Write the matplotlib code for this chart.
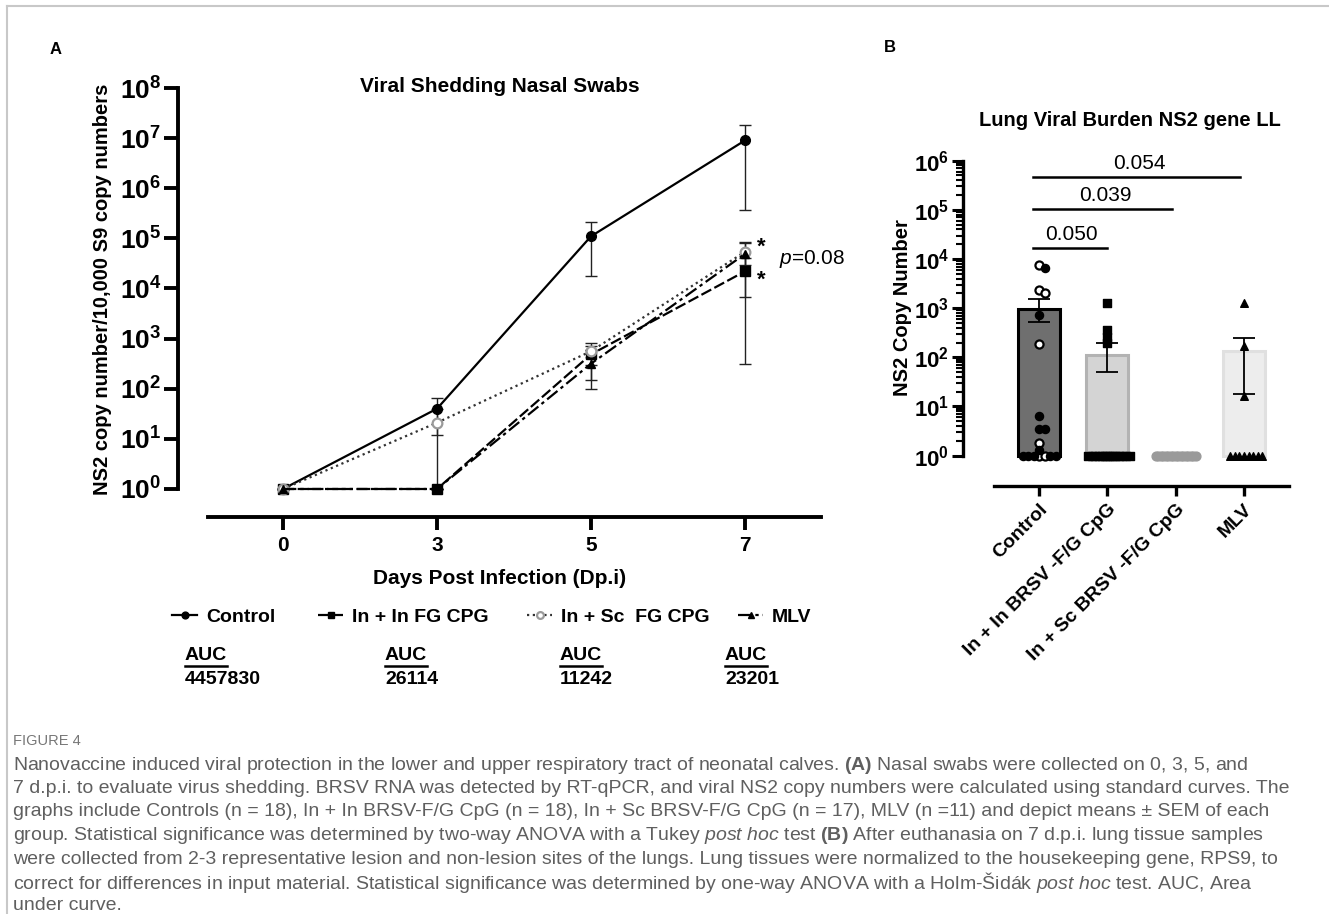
import numpy as np
import matplotlib
matplotlib.use('Agg')
import matplotlib.pyplot as plt
from matplotlib.lines import Line2D
from matplotlib.ticker import FixedLocator, FuncFormatter, NullFormatter

plt.rcParams['font.family'] = ['Liberation Sans', 'DejaVu Sans']
plt.rcParams['mathtext.fontset'] = 'custom'
plt.rcParams['mathtext.rm'] = 'Liberation Sans'
plt.rcParams['mathtext.bf'] = 'Liberation Sans:bold'
plt.rcParams['mathtext.it'] = 'Liberation Sans:italic'

# ---- panel A: nasal shedding (means and SEM limits) ----
days = ['0', '3', '5', '7']
control = [1, 40, 1.1e5, 9.0e6]
control_lo = [1, 12, 1.8e4, 3.7e5]
control_hi = [1, 66, 2.1e5, 1.8e7]
inin = [1, 1, 485, 2.2e4]
inin_lo = [1, 1, 148, 316]
inin_hi = [1, 1, 700, 4.0e4]
insc = [1, 21, 560, 5.4e4]
insc_lo = [1, 1, 300, 3.0e4]
insc_hi = [1, 40, 830, 8.5e4]
mlv = [1, 1, 316, 4.9e4]
mlv_lo = [1, 1, 100, 6.9e3]
mlv_hi = [1, 1, 600, 8.0e4]
legend_names = ['Control', 'In + In FG CPG', 'In + Sc  FG CPG', 'MLV']
auc_values = ['4457830', '26114', '11242', '23201']

# ---- panel B: lung viral burden ----
groups = ['Control', 'In + In BRSV -F/G CpG', 'In + Sc BRSV -F/G CpG', 'MLV']
bar_means = [980, 113, 1, 133]
bar_lo = [515, 50, 1, 18]
bar_hi = [1550, 196, 1, 250]
control_open = [7400, 2300, 2050, 190, 1.8, 1, 1]
control_filled = [6700, 740, 6.5, 3.5, 3.5, 1.3, 1, 1, 1, 1, 1]
inin_pts = [1250, 365, 265, 200] + [1] * 14
insc_pts = [1] * 17
mlv_pts = [1250, 172, 16] + [1] * 8
brackets = [(0, 1, 1.65e4, '0.050'), (0, 2, 1.02e5, '0.039'), (0, 3, 4.7e5, '0.054')]

W, H = 1329, 914
fig = plt.figure(figsize=(W / 100, H / 100), dpi=100)


def fx(px):
    return px / W


def fy(py):
    return 1 - py / H


def swarm(values, diam, xpx=68.3, ypx=49.0):
    # simple beeswarm offsets (in x units) so markers don't sit on each other
    placed, offs = [], []
    cands = [0.0]
    for i in range(1, 80):
        cands += [i * diam / 2, -i * diam / 2]
    for v in values:
        y = np.log10(v) * ypx
        for c in cands:
            if all((c - a) ** 2 + (y - b) ** 2 >= diam ** 2 for a, b in placed):
                break
        placed.append((c, y))
        offs.append(c / xpx)
    return offs


# ================= panel A =================
axA = fig.add_axes([fx(178), fy(517), fx(821 - 178), (517 - 88) / H])
x = np.arange(len(days))
series = [
    (control, control_lo, control_hi, dict(color='black', ls='-', marker='o', ms=7, mfc='black', mec='black')),
    (inin, inin_lo, inin_hi, dict(color='black', ls=(0, (5, 1.6)), marker='s', ms=6.5, mfc='black', mec='black')),
    (insc, insc_lo, insc_hi, dict(color='#333333', ls=(0, (1, 1.6)), marker='o', ms=7, mfc='white', mec='#9a9a9a', mew=1.6)),
    (mlv, mlv_lo, mlv_hi, dict(color='black', ls=(0, (6, 1.8, 1.5, 1.8)), marker='^', ms=6, mfc='black', mec='black')),
]
for mean, lo, hi, st in series:
    mean = np.array(mean, float)
    err = [mean - np.array(lo), np.array(hi) - mean]
    axA.errorbar(x, mean, yerr=err, fmt='none', ecolor='#222222', elinewidth=1.0, capsize=4, capthick=1.0, zorder=2)
handles = []
for mean, lo, hi, st in series:
    h, = axA.plot(x, mean, lw=1.6, zorder=3, **st)
    handles.append(h)

axA.set_yscale('log')
axA.set_ylim(10 ** (-(517 - 489) / 50.1), 1e8)
axA.set_xlim((178 - 283) / 154, (821 - 283) / 154)
for s in ['top', 'right']:
    axA.spines[s].set_visible(False)
axA.spines['left'].set_bounds(1, 1e8)
axA.spines['bottom'].set_bounds(-0.49, (821 - 283) / 154)
for s in ['left', 'bottom']:
    axA.spines[s].set_linewidth(2.8)
axA.yaxis.set_major_locator(FixedLocator([10.0 ** k for k in range(9)]))
axA.yaxis.set_minor_locator(FixedLocator([]))
axA.yaxis.set_major_formatter(FuncFormatter(lambda v, p: r'$\mathbf{10^{%d}}$' % round(np.log10(v))))
axA.set_xticks(x)
axA.set_xticklabels(days, fontsize=15, fontweight='bold')
axA.tick_params(axis='y', length=10, width=2.8, labelsize=19, pad=2)
axA.tick_params(axis='x', length=9, width=2.8, pad=5)

# significance marks at day 7
axA.text(3.08, 6.6e4, '*', fontsize=16, fontweight='bold', ha='left', va='center')
axA.text(3.08, 1.45e4, '*', fontsize=16, fontweight='bold', ha='left', va='center')
axA.text(3.22, 3.8e4, r'$\mathit{p}$=0.08', fontsize=15, ha='left', va='center')

fig.text(fx(500), fy(87), 'Viral Shedding Nasal Swabs', fontsize=15, fontweight='bold', ha='center', va='center')
fig.text(fx(500), fy(579), 'Days Post Infection (Dp.i)', fontsize=15, fontweight='bold', ha='center', va='center')
fig.text(fx(103), fy(289), 'NS2 copy number/10,000 S9 copy numbers', fontsize=14.5, fontweight='bold',
         rotation=90, ha='center', va='center')
fig.text(fx(56), fy(50), 'A', fontsize=12, fontweight='bold', ha='center', va='center')

# legend row and AUC values
leg_x = [172, 318, 527, 738]
for h, name, lx in zip(handles, legend_names, leg_x):
    fig.legend(handles=[h], labels=[name], loc='center left', bbox_to_anchor=(fx(lx), fy(617)),
               frameon=False, borderpad=0, borderaxespad=0, handlelength=1.3, handletextpad=0.45,
               prop=dict(size=14, weight='bold'), markerscale=0.7)

renderer = fig.canvas.get_renderer()
auc_x = [185, 385, 560, 725]
for ax_, val in zip(auc_x, auc_values):
    t = fig.text(fx(ax_), fy(655), 'AUC', fontsize=14, fontweight='bold', ha='left', va='center')
    bb = t.get_window_extent(renderer)
    fig.add_artist(Line2D([bb.x0 / W, bb.x1 / W], [(bb.y0 - 2) / H, (bb.y0 - 2) / H], color='black', lw=1.8))
    fig.text(fx(ax_), fy(679), val, fontsize=14, fontweight='bold', ha='left', va='center')

# ================= panel B =================
axB = fig.add_axes([fx(963), fy(485.7), fx(1289 - 963), (485.7 - 160.7) / H])
xb = np.arange(len(groups))
bar_face = ['#6f6f6f', '#d4d4d4', '#d4d4d4', '#ededed']
bar_edge = ['black', '#b3b3b3', '#b3b3b3', '#e0e0e0']
for i in range(len(groups)):
    if bar_means[i] > 1:
        axB.bar(xb[i], bar_means[i] - 1, bottom=1, width=0.62, color=bar_face[i], edgecolor=bar_edge[i],
                linewidth=2.2, zorder=1)
        axB.errorbar(xb[i], bar_means[i], yerr=[[bar_means[i] - bar_lo[i]], [bar_hi[i] - bar_means[i]]],
                     fmt='none', ecolor='black', elinewidth=1.3, capsize=8, capthick=1.3, zorder=4)

ctrl_vals = control_open + control_filled
ctrl_off = swarm(ctrl_vals, 5.5)
n_open = len(control_open)
axB.scatter([0 + o for o in ctrl_off[:n_open]], control_open, s=34, facecolor='white', edgecolor='black',
            linewidth=1.6, zorder=5, clip_on=False)
axB.scatter([0 + o for o in ctrl_off[n_open:]], control_filled, s=34, color='black', zorder=5, clip_on=False)
axB.scatter([1 + o for o in swarm(inin_pts, 2.7)], inin_pts, s=30, marker='s', color='black', zorder=5,
            clip_on=False)
axB.scatter([2 + o for o in swarm(insc_pts, 2.5)], insc_pts, s=40, color='#9a9a9a', zorder=5, clip_on=False)
axB.scatter([3 + o for o in swarm(mlv_pts, 4.6)], mlv_pts, s=30, marker='^', color='black', zorder=5,
            clip_on=False)

for a, b, yv, lab in brackets:
    axB.plot([a - 0.09, b - 0.05 * (b > 1)], [yv, yv], color='black', lw=1.8, clip_on=False)
    axB.annotate(lab, xy=((a + b) / 2 - 0.03, yv), xytext=(0, 3), textcoords='offset points',
                 ha='center', va='bottom', fontsize=15, annotation_clip=False)

axB.set_yscale('log')
axB.set_ylim(10 ** (-30 / 49), 1e6)
axB.set_xlim((963 - 1039) / 68.3, (1289 - 1039) / 68.3)
for s in ['top', 'right']:
    axB.spines[s].set_visible(False)
axB.spines['left'].set_bounds(1, 1e6)
axB.spines['bottom'].set_bounds(-0.66, (1289 - 1039) / 68.3)
for s in ['left', 'bottom']:
    axB.spines[s].set_linewidth(2.4)
axB.yaxis.set_major_locator(FixedLocator([10.0 ** k for k in range(7)]))
axB.yaxis.set_minor_locator(FixedLocator([m * 10.0 ** k for k in range(6) for m in range(2, 10)]))
axB.yaxis.set_minor_formatter(NullFormatter())
axB.yaxis.set_major_formatter(FuncFormatter(lambda v, p: r'$\mathbf{10^{%d}}$' % round(np.log10(v))))
axB.tick_params(axis='y', which='major', length=8, width=2.2, labelsize=16, pad=2)
axB.tick_params(axis='y', which='minor', length=5, width=1.5)
axB.tick_params(axis='x', length=7, width=2.4, pad=4)
axB.set_xticks(xb)
axB.set_xticklabels(groups, rotation=45, ha='right', rotation_mode='anchor', fontsize=14, fontweight='bold')

fig.text(fx(1130), fy(121), 'Lung Viral Burden NS2 gene LL', fontsize=14.5, fontweight='bold',
         ha='center', va='center')
fig.text(fx(902), fy(308), 'NS2 Copy Number', fontsize=14.5, fontweight='bold', rotation=90,
         ha='center', va='center')
fig.text(fx(890), fy(48), 'B', fontsize=12, fontweight='bold', ha='center', va='center')

# ================= caption =================
cap_color = '#5f5f5f'
fig.text(fx(13), fy(741), 'FIGURE 4', fontsize=10.5, color='#777777', ha='left', va='center')
caption = [
    r'Nanovaccine induced viral protection in the lower and upper respiratory tract of neonatal calves. $\mathbf{(A)}$ Nasal swabs were collected on 0, 3, 5, and',
    '7 d.p.i. to evaluate virus shedding. BRSV RNA was detected by RT-qPCR, and viral NS2 copy numbers were calculated using standard curves. The',
    'graphs include Controls (n = 18), In + In BRSV-F/G CpG (n = 18), In + Sc BRSV-F/G CpG (n = 17), MLV (n =11) and depict means \u00b1 SEM of each',
    r'group. Statistical significance was determined by two-way ANOVA with a Tukey $\mathit{post\ hoc}$ test $\mathbf{(B)}$ After euthanasia on 7 d.p.i. lung tissue samples',
    'were collected from 2-3 representative lesion and non-lesion sites of the lungs. Lung tissues were normalized to the housekeeping gene, RPS9, to',
    'correct for differences in input material. Statistical significance was determined by one-way ANOVA with a Holm-\u0160id\u00e1k '
    + r'$\mathit{post\ hoc}$ test. AUC, Area',
    'under curve.',
]
for i, line in enumerate(caption):
    fig.text(fx(13), fy(765 + 23.5 * i), line, fontsize=14, color=cap_color, ha='left', va='center')

# page frame
fig.add_artist(Line2D([fx(7), fx(7)], [0, fy(6)], color='#c8c8c8', lw=1.5))
fig.add_artist(Line2D([fx(7), 1], [fy(6), fy(6)], color='#c8c8c8', lw=1.5))

fig.savefig('out.png', dpi=100)
